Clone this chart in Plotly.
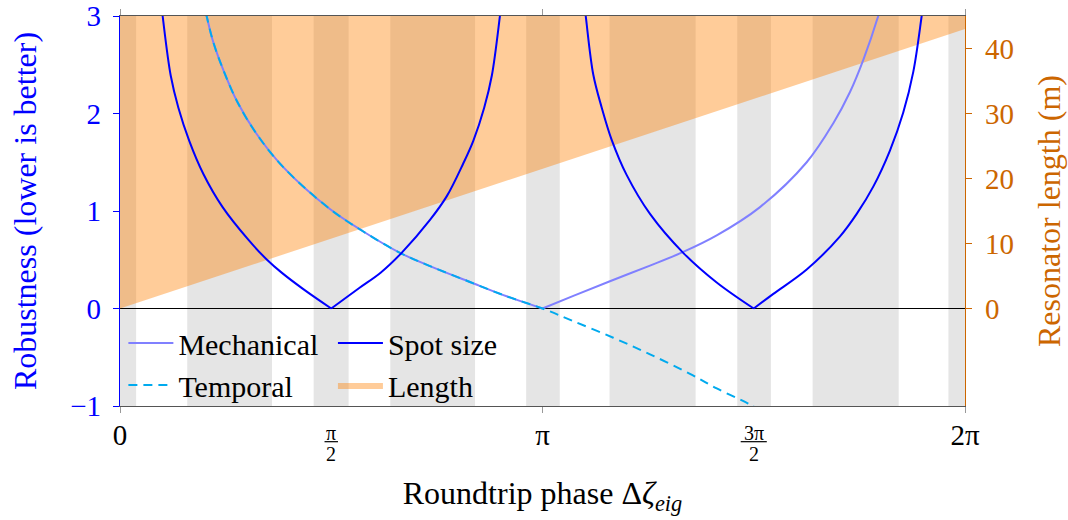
import numpy as np
import plotly.graph_objects as go

PI = np.pi
X_MAX = 2 * PI

# ---- data -------------------------------------------------------------
# shaded phase intervals (rad)
band_start = [0.00, 0.50, 1.44, 2.01, 3.02, 3.64, 4.59, 5.15, 6.16]
band_end = [0.12, 1.13, 1.70, 2.64, 3.27, 4.28, 4.84, 5.79, X_MAX]

# mechanical robustness (kink at pi -> two branches)
mech_phase = [0.615, 0.644, 0.694, 0.773, 0.872, 1.011, 1.214, 1.561, 1.809,
              2.082, 2.305, 2.602, 2.875, PI, None,
              PI, 3.371, 3.643, 3.941, 4.188, 4.437, 4.759, 5.106,
              5.304, 5.428, 5.527, 5.638, 5.672]
mech_value = [3.17, 3.00, 2.73, 2.43, 2.12, 1.80, 1.45, 1.02, 0.79,
              0.571, 0.435, 0.272, 0.125, 0.0, None,
              0.0, 0.13, 0.28, 0.44, 0.58, 0.75, 1.04, 1.50,
              1.90, 2.22, 2.55, 3.00, 3.17]

# temporal robustness (signed)
temp_phase = [0.615, 0.644, 0.694, 0.773, 0.872, 1.011, 1.214, 1.561, 1.809,
              2.082, 2.305, 2.602, 2.875, PI, 3.371, 3.668, 3.941, 4.238,
              4.437, 4.671, 4.75]
temp_value = [3.17, 3.00, 2.73, 2.43, 2.12, 1.80, 1.45, 1.02, 0.79,
              0.571, 0.435, 0.272, 0.125, 0.0, -0.13, -0.30, -0.47, -0.67,
              -0.82, -0.975, -1.04]

# spot-size robustness (cusps at pi/2 and 3pi/2, diverges at 0, pi, 2pi)
spot_phase = [0.300, 0.317, 0.377, 0.434, 0.515, 0.620, 0.763, 0.954, 1.091,
              1.202, 1.363, PI / 2, None,
              PI / 2, 1.779, 1.940, 2.094, 2.305, 2.429, 2.553, 2.627, 2.708,
              2.765, 2.825, 2.842, None,
              3.445, 3.463, 3.519, 3.582, 3.656, 3.767, 3.941, 4.188, 4.437,
              3 * PI / 2, None,
              3 * PI / 2, 4.858, 5.106, 5.354, 5.478, 5.601, 5.725, 5.824,
              5.899, 5.961, 5.985]
spot_value = [3.2, 3.0, 2.39, 2.06, 1.72, 1.38, 1.04, 0.706, 0.503,
              0.368, 0.199, 0.0, None,
              0.0, 0.21, 0.37, 0.571, 0.909, 1.15, 1.49, 1.72, 2.06,
              2.39, 3.0, 3.2, None,
              3.2, 3.0, 2.40, 2.06, 1.73, 1.37, 0.97, 0.571, 0.267,
              0.0, None,
              0.0, 0.15, 0.40, 0.74, 0.97, 1.25, 1.62, 2.01,
              2.43, 3.0, 3.25]

# resonator length (m), linear in phase
length_phase = [0.0, X_MAX]
length_m = [0.0, 43.0]

# axes
Y_RANGE = [-1, 3]
Y2_RANGE = [-15, 45]
y_ticks = [-1, 0, 1, 2, 3]
y_ticktext = ["\u22121", "0", "1", "2", "3"]
y2_ticks = [0, 10, 20, 30, 40]
x_ticks = [0, PI / 2, PI, 3 * PI / 2, X_MAX]
x_label_ticks = [0, PI, X_MAX]
x_label_text = ["0", "\u03c0", "2\u03c0"]
x_frac_ticks = [PI / 2, 3 * PI / 2]
frac_num = ["\u03c0", "3\u03c0"]
frac_den = ["2", "2"]

# ---- style ------------------------------------------------------------
FONT = "Liberation Serif, DejaVu Serif, serif"
BLUE = "#0000FF"
MECH = "#8080FF"
CYAN = "#00AAEE"
ORANGE_AX = "#CC6600"
ORANGE_FILL = "rgba(255,128,0,0.4)"
GRAY_BAND = "#E5E5E5"
FRAME = "#555555"
TICK_GRAY = "#999999"
TICK_SIZE = 29
TITLE_SIZE = 32
LEGEND_SIZE = 30

fig = go.Figure()

# resonator length: area above the length line (main y axis = length)
fig.add_trace(go.Scatter(
    x=length_phase + length_phase[::-1],
    y=length_m + [Y2_RANGE[1], Y2_RANGE[1]],
    fill="toself", fillcolor=ORANGE_FILL, mode="lines",
    line=dict(width=0), name="Length", xaxis="x", yaxis="y",
    legend="legend2", legendrank=2, hoverinfo="skip",
))

# robustness curves on the overlaid left axis (drawn above the fill)
fig.add_trace(go.Scatter(
    x=mech_phase, y=mech_value, mode="lines", name="Mechanical",
    line=dict(color=MECH, width=2, shape="spline"), yaxis="y2",
    legend="legend", legendrank=1,
))
fig.add_trace(go.Scatter(
    x=temp_phase, y=temp_value, mode="lines", name="Temporal",
    line=dict(color=CYAN, width=2, dash="9px,6px", shape="spline"),
    yaxis="y2", legend="legend", legendrank=2,
))
fig.add_trace(go.Scatter(
    x=spot_phase, y=spot_value, mode="lines", name="Spot size",
    line=dict(color=BLUE, width=2, shape="spline"), yaxis="y2",
    legend="legend2", legendrank=1,
))

# shaded bands behind everything
for lo, hi in zip(band_start, band_end):
    fig.add_shape(type="rect", xref="x", yref="paper", x0=lo, x1=hi,
                  y0=0, y1=1, fillcolor=GRAY_BAND, line_width=0,
                  layer="below")

# stacked-fraction tick labels
for val, num, den in zip(x_frac_ticks, frac_num, frac_den):
    fig.add_annotation(x=val, xref="x", y=-0.0692, yref="paper", text=num,
                       showarrow=False, yanchor="middle",
                       font=dict(family=FONT, size=20, color="black"))
    fig.add_annotation(x=val, xref="x", y=-0.1231, yref="paper", text=den,
                       showarrow=False, yanchor="middle",
                       font=dict(family=FONT, size=20, color="black"))
    half = (0.05 if len(num) == 1 else 0.097) / X_MAX
    fig.add_shape(type="line", xref="paper", yref="paper",
                  x0=val / X_MAX - half, x1=val / X_MAX + half,
                  y0=-0.0915, y1=-0.0915,
                  line=dict(color="black", width=1.2))

common = dict(showgrid=False, fixedrange=True, automargin=False)
x_range = [0, X_MAX]

fig.update_layout(
    template="none",
    width=1068, height=520,
    margin=dict(l=120, r=103, t=16, b=114, pad=0),
    paper_bgcolor="white", plot_bgcolor="white",
    font=dict(family=FONT, size=TICK_SIZE, color="black"),
    showlegend=True,
    # bottom/top frame with labelled ticks
    xaxis=dict(
        range=x_range, anchor="y", tickmode="array", tickvals=x_label_ticks,
        ticktext=x_label_text, ticks="outside", ticklen=6, tickwidth=1,
        tickcolor=TICK_GRAY, showline=True, linecolor=FRAME, linewidth=1.3,
        mirror="ticks", zeroline=False, ticklabelstandoff=-3,
        ticklabeloverflow="allow", tickfont=dict(size=TICK_SIZE),
        title=dict(text="Roundtrip phase \u0394<i>\u03b6</i><sub><i>eig</i></sub>",
                   font=dict(size=TITLE_SIZE), standoff=31),
        **common,
    ),
    # inner half of every x tick
    xaxis2=dict(
        overlaying="x", anchor="y", range=x_range, tickmode="array",
        tickvals=x_ticks, ticks="inside", ticklen=5, tickwidth=1,
        tickcolor=TICK_GRAY, showticklabels=False, showline=False,
        mirror="ticks", zeroline=False, **common,
    ),
    # outer half of the fraction ticks
    xaxis3=dict(
        overlaying="x", anchor="y", range=x_range, tickmode="array",
        tickvals=x_frac_ticks, ticks="outside", ticklen=6, tickwidth=1,
        tickcolor=TICK_GRAY, showticklabels=False, showline=False,
        mirror="ticks", zeroline=False, **common,
    ),
    # resonator length (right)
    yaxis=dict(
        side="right", anchor="x", range=Y2_RANGE, tickmode="array",
        tickvals=y2_ticks, ticks="outside", ticklen=6, tickwidth=1.2,
        tickcolor=ORANGE_AX, showline=True, linecolor=ORANGE_AX,
        linewidth=1.3, zeroline=False, ticklabeloverflow="allow",
        tickfont=dict(color=ORANGE_AX, size=TICK_SIZE), ticklabelstandoff=7,
        title=dict(text="Resonator length (m)",
                   font=dict(color=ORANGE_AX, size=TITLE_SIZE), standoff=24),
        **common,
    ),
    # robustness (left)
    yaxis2=dict(
        overlaying="y", side="left", anchor="x", range=Y_RANGE,
        tickmode="array", tickvals=y_ticks, ticktext=y_ticktext,
        ticks="outside", ticklen=6, tickwidth=1.2, tickcolor=BLUE,
        showline=True, linecolor=BLUE, linewidth=1.3,
        zeroline=True, zerolinecolor="black", zerolinewidth=1.2,
        ticklabeloverflow="allow",
        tickfont=dict(color=BLUE, size=TICK_SIZE), ticklabelstandoff=6,
        title=dict(text="Robustness (lower is better)",
                   font=dict(color=BLUE, size=TITLE_SIZE), standoff=23),
        **common,
    ),
    yaxis3=dict(
        overlaying="y", side="left", anchor="x", range=Y_RANGE,
        tickmode="array", tickvals=y_ticks, ticks="inside", ticklen=6,
        tickwidth=1.2, tickcolor=BLUE, showticklabels=False,
        showline=False, zeroline=False, **common,
    ),
    yaxis4=dict(
        overlaying="y", side="right", anchor="x", range=Y2_RANGE,
        tickmode="array", tickvals=y2_ticks, ticks="inside", ticklen=6,
        tickwidth=1.2, tickcolor=ORANGE_AX, showticklabels=False,
        showline=False, zeroline=False, **common,
    ),
    legend=dict(
        x=0.004, y=0.228, xanchor="left", yanchor="top",
        bgcolor="rgba(0,0,0,0)", borderwidth=0, itemwidth=45,
        font=dict(size=LEGEND_SIZE), traceorder="normal", tracegroupgap=0,
    ),
    legend2=dict(
        x=0.252, y=0.228, xanchor="left", yanchor="top",
        bgcolor="rgba(0,0,0,0)", borderwidth=0, itemwidth=45,
        font=dict(size=LEGEND_SIZE), traceorder="normal", tracegroupgap=0,
    ),
)

fig.write_html("out.html")
